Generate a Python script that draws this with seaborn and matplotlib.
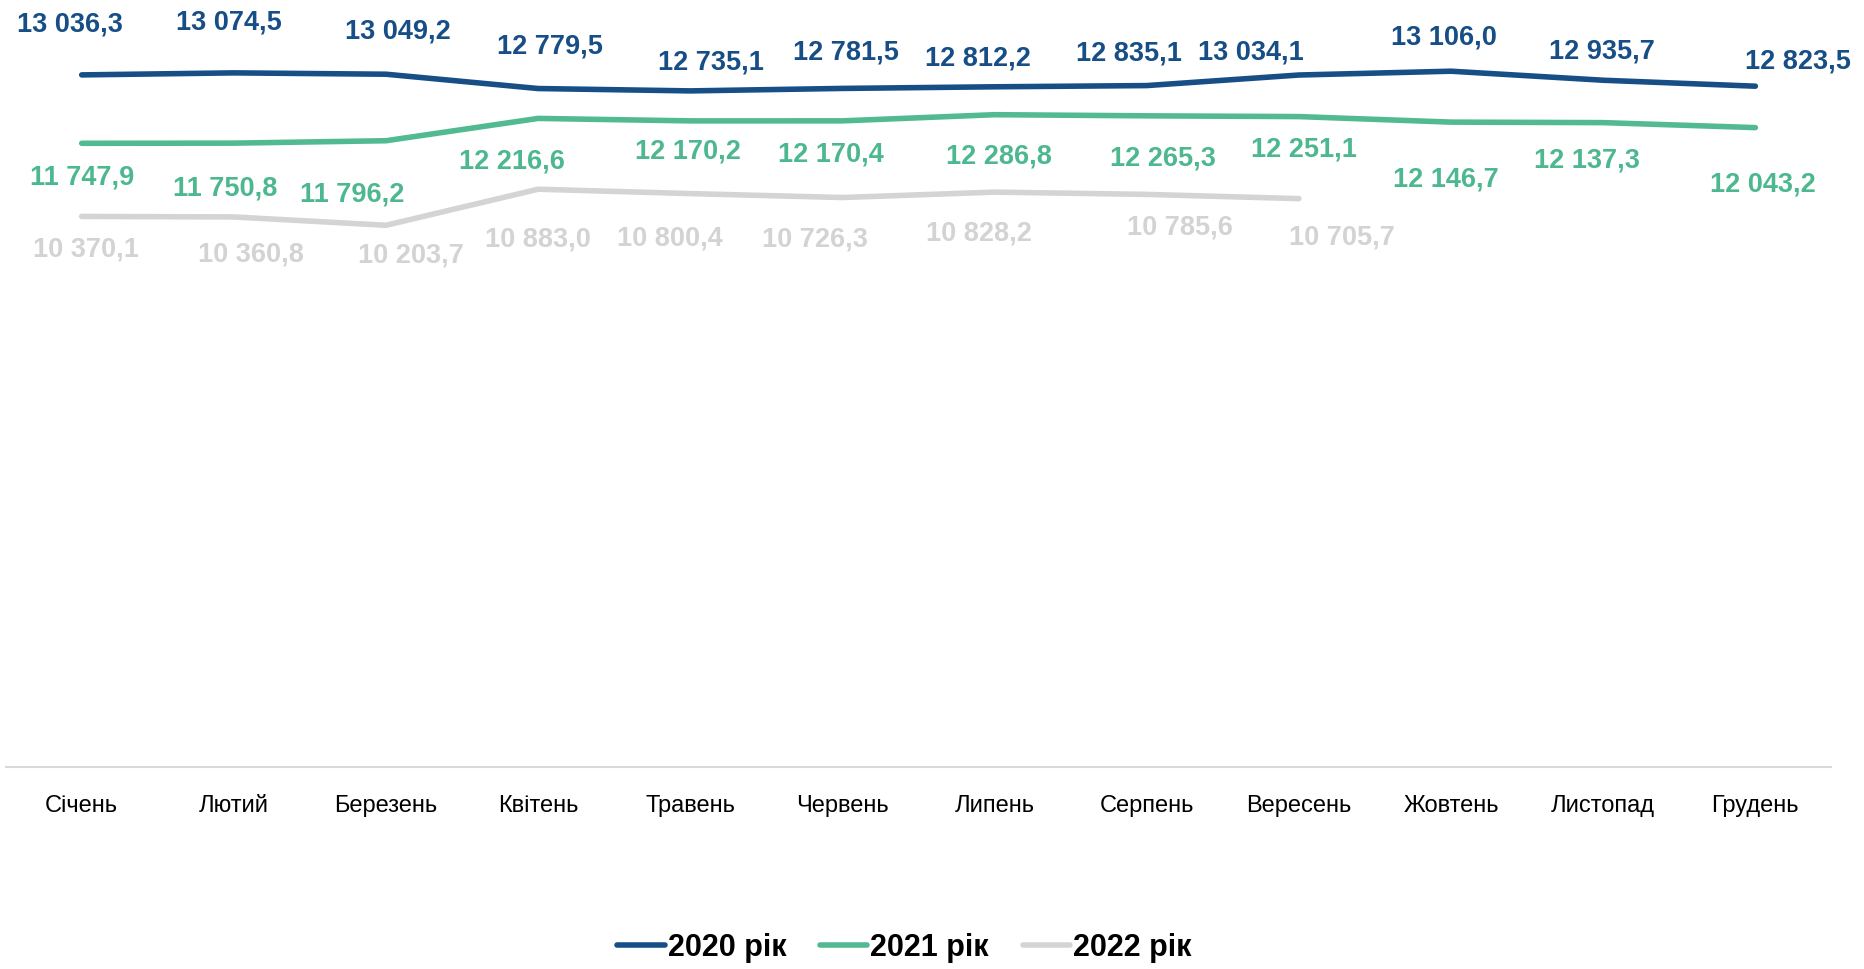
import numpy as np
import pandas as pd
import matplotlib
matplotlib.use('Agg')
import matplotlib.pyplot as plt
import seaborn as sns

months = ['Січень', 'Лютий', 'Березень', 'Квітень', 'Травень', 'Червень',
          'Липень', 'Серпень', 'Вересень', 'Жовтень', 'Листопад', 'Грудень']
years = ['2020 рік', '2021 рік', '2022 рік']
y2020 = [13036.3, 13074.5, 13049.2, 12779.5, 12735.1, 12781.5,
         12812.2, 12835.1, 13034.1, 13106.0, 12935.7, 12823.5]
y2021 = [11747.9, 11750.8, 11796.2, 12216.6, 12170.2, 12170.4,
         12286.8, 12265.3, 12251.1, 12146.7, 12137.3, 12043.2]
y2022 = [10370.1, 10360.8, 10203.7, 10883.0, 10800.4, 10726.3,
         10828.2, 10785.6, 10705.7, np.nan, np.nan, np.nan]

# зсуви підписів (px, у масштабі показаного зображення)
off2020 = [(-10, -42), (-4, -42), (10, -36), (10, -35), (17, -24), (3, -30),
           (-14, -24), (-15, -27), (-40, -19), (-6, -28), (-1, -24), (36, -21)]
off2021 = [(0, 29), (-7, 38), (-28, 45), (-22, 36), (-2, 26), (-10, 28),
           (4, 35), (14, 36), (4, 28), (-4, 48), (-14, 32), (6, 48)]
off2022 = [(4, 28), (14, 32), (21, 25), (0, 42), (-17, 38), (-23, 35),
           (-13, 35), (28, 28), (36, 33)]

colors = ['#174E86', '#52BA91', '#D4D4D4']
label_colors = ['#174E86', '#4DB88F', '#D3D3D3']

df = pd.DataFrame({'month': months * 3,
                   'value': y2020 + y2021 + y2022,
                   'year': np.repeat(years, 12)})

sns.set_theme(style='white')
plt.rcParams['font.family'] = ['Liberation Sans', 'DejaVu Sans']

fig = plt.figure(figsize=(18.65, 9.69), dpi=100)
ax = fig.add_axes([0.003, 0.2085, 0.979, 0.767])

sns.lineplot(data=df, x='month', y='value', hue='year', palette=colors,
             linewidth=4, sort=False, ax=ax, solid_capstyle='round')

ax.set_ylim(0, 14000)
ax.set_xlim(-0.5, 11.5)
ax.set_xlabel('')
ax.set_ylabel('')
ax.set_yticks([])
for s in ['top', 'left', 'right']:
    ax.spines[s].set_visible(False)
ax.spines['bottom'].set_color('#D9D9D9')
ax.spines['bottom'].set_linewidth(1.5)
ax.tick_params(axis='x', length=0, pad=20, labelsize=17, colors='#000000')

k = 1865 / 1568


def fmt(v):
    s = f'{v:,.1f}'
    return s.replace(',', ' ').replace('.', ',')


for vals, offs, c in zip([y2020, y2021, y2022], [off2020, off2021, off2022], label_colors):
    for i, (v, o) in enumerate(zip(vals, offs)):
        if np.isnan(v):
            continue
        ax.annotate(fmt(v), (i, v), xytext=(o[0] * k, -o[1] * k),
                    textcoords='offset pixels', ha='center', va='center',
                    fontsize=19.5, fontweight='bold', color=c)

handles, labels = ax.get_legend_handles_labels()
leg = ax.legend(handles, labels, loc='center', bbox_to_anchor=(0.485, 0.022),
                bbox_transform=fig.transFigure, ncol=3, frameon=False,
                handlelength=1.55, handletextpad=0.1, columnspacing=1.1,
                prop={'size': 22, 'weight': 'bold'})
for t in leg.get_texts():
    t.set_color('#000000')

fig.savefig('out.png', dpi=100)
